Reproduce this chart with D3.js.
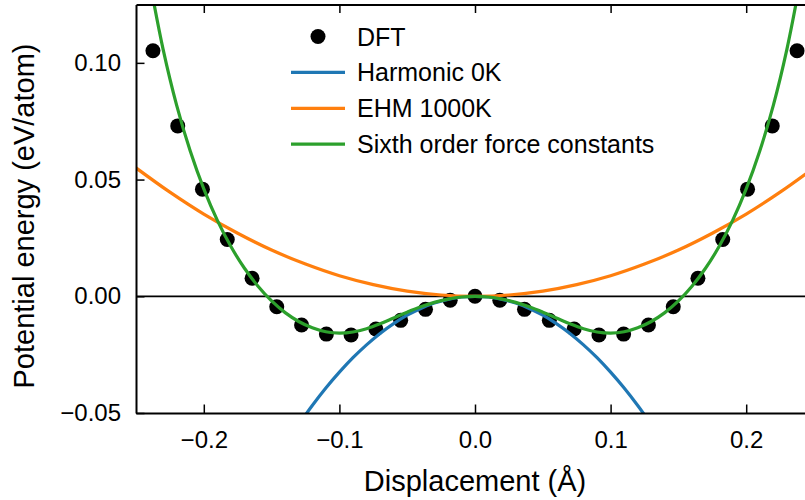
<!DOCTYPE html>
<html>
<head>
<meta charset="utf-8">
<script src="https://cdn.jsdelivr.net/npm/d3@7"></script>
<style>
  body { margin: 0; background: #fff; }
  svg { display: block; font-family: "Liberation Sans", Arial, sans-serif; }
</style>
</head>
<body>
<svg id="chart"></svg>
<script>
// DFT points
const dftX = [-0.2375, -0.2192, -0.2010, -0.1827, -0.1644, -0.1462, -0.1279, -0.1096, -0.0914, -0.0731, -0.0548, -0.0365, -0.0183, 0,
  0.0183, 0.0365, 0.0548, 0.0731, 0.0914, 0.1096, 0.1279, 0.1462, 0.1644, 0.1827, 0.2010, 0.2192, 0.2375];
const dftE = [0.1052, 0.0730, 0.0459, 0.0243, 0.0077, -0.0045, -0.0123, -0.0162, -0.0166, -0.0140, -0.0103, -0.0056, -0.0017, 0,
  -0.0017, -0.0056, -0.0103, -0.0140, -0.0166, -0.0162, -0.0123, -0.0045, 0.0077, 0.0243, 0.0459, 0.0730, 0.1052];

// Harmonic 0K
const harmX = [-0.13, -0.12, -0.11, -0.10, -0.09, -0.08, -0.07, -0.06, -0.05, -0.04, -0.03, -0.02, -0.01, 0,
  0.01, 0.02, 0.03, 0.04, 0.05, 0.06, 0.07, 0.08, 0.09, 0.10, 0.11, 0.12, 0.13];
const harmE = [-0.0549, -0.0468, -0.0393, -0.0325, -0.0263, -0.0208, -0.0159, -0.0117, -0.0081, -0.0052, -0.0029, -0.0013, -0.0003, 0,
  -0.0003, -0.0013, -0.0029, -0.0052, -0.0081, -0.0117, -0.0159, -0.0208, -0.0263, -0.0325, -0.0393, -0.0468, -0.0549];

// EHM 1000K
const ehmX = [-0.25, -0.225, -0.2, -0.175, -0.15, -0.125, -0.1, -0.075, -0.05, -0.025, 0,
  0.025, 0.05, 0.075, 0.1, 0.125, 0.15, 0.175, 0.2, 0.225, 0.25];
const ehmE = [0.0550, 0.0446, 0.0352, 0.0270, 0.0198, 0.0138, 0.0088, 0.0050, 0.0022, 0.00055, 0,
  0.00055, 0.0022, 0.0050, 0.0088, 0.0138, 0.0198, 0.0270, 0.0352, 0.0446, 0.0550];

// Sixth order force constants
const sixX = [-0.24, -0.23, -0.22, -0.21, -0.20, -0.19, -0.18, -0.17, -0.16, -0.15, -0.14, -0.13, -0.12, -0.11, -0.10,
  -0.09, -0.08, -0.07, -0.06, -0.05, -0.04, -0.03, -0.02, -0.01, 0,
  0.01, 0.02, 0.03, 0.04, 0.05, 0.06, 0.07, 0.08, 0.09, 0.10,
  0.11, 0.12, 0.13, 0.14, 0.15, 0.16, 0.17, 0.18, 0.19, 0.20, 0.21, 0.22, 0.23, 0.24];
const sixE = [0.1355, 0.1058, 0.0818, 0.0622, 0.0460, 0.0325, 0.0213, 0.0120, 0.0043, -0.0020, -0.0070, -0.0108, -0.0135, -0.0152, -0.0158,
  -0.0153, -0.0139, -0.0118, -0.0093, -0.0068, -0.0045, -0.0026, -0.0012, -0.0003, 0,
  -0.0003, -0.0012, -0.0026, -0.0045, -0.0068, -0.0093, -0.0118, -0.0139, -0.0153, -0.0158,
  -0.0152, -0.0135, -0.0108, -0.0070, -0.0020, 0.0043, 0.0120, 0.0213, 0.0325, 0.0460, 0.0622, 0.0818, 0.1058, 0.1355];

const xTicks = [-0.2, -0.1, 0.0, 0.1, 0.2];
const yTicks = [-0.05, 0.00, 0.05, 0.10];
const legendLabels = ["DFT", "Harmonic 0K", "EHM 1000K", "Sixth order force constants"];
const lineColors = ["#1f77b4", "#ff7f0e", "#2ca02c"];

const width = 805, height = 500;
const m = { left: 136, right: 814, top: 4.5, bottom: 413 };

const svg = d3.select("#chart").attr("width", width).attr("height", height);

const x = d3.scaleLinear().domain([-0.25, 0.25]).range([m.left, m.right]);
const y = d3.scaleLinear().domain([-0.05, 0.125]).range([m.bottom, m.top]);

svg.append("clipPath").attr("id", "clip")
  .append("rect")
  .attr("x", m.left).attr("y", m.top)
  .attr("width", m.right - m.left).attr("height", m.bottom - m.top);

const plot = svg.append("g").attr("clip-path", "url(#clip)");

// zero line
plot.append("line")
  .attr("x1", m.left).attr("x2", m.right)
  .attr("y1", y(0)).attr("y2", y(0))
  .attr("stroke", "#000").attr("stroke-width", 1.8);

// DFT dots
plot.selectAll(".dft")
  .data(dftX.map((d, i) => [d, dftE[i]]))
  .enter()
  .append("circle")
  .attr("class", "dft")
  .attr("cx", (d) => x(d[0]))
  .attr("cy", (d) => y(d[1]))
  .attr("r", 7.5)
  .attr("fill", "#000");

const line = d3.line()
  .x((d) => x(d[0]))
  .y((d) => y(d[1]))
  .curve(d3.curveCatmullRom);

const series = [
  harmX.map((d, i) => [d, harmE[i]]),
  ehmX.map((d, i) => [d, ehmE[i]]),
  sixX.map((d, i) => [d, sixE[i]])
];

plot.selectAll(".curve")
  .data(series)
  .enter()
  .append("path")
  .attr("class", "curve")
  .attr("d", line)
  .attr("fill", "none")
  .attr("stroke", (_, i) => lineColors[i])
  .attr("stroke-width", 3.2)
  .attr("stroke-linejoin", "round");

// axes, ticks pointing inward on all four sides
const fmtX = d3.format(".1f"), fmtY = d3.format(".2f");

svg.append("g")
  .attr("transform", `translate(0,${m.bottom})`)
  .call(d3.axisBottom(x).tickValues(xTicks).tickSizeInner(-8.5).tickSizeOuter(0).tickPadding(18).tickFormat(fmtX));
svg.append("g")
  .attr("transform", `translate(0,${m.top})`)
  .call(d3.axisTop(x).tickValues(xTicks).tickSizeInner(-8.5).tickSizeOuter(0).tickFormat(""));
svg.append("g")
  .attr("transform", `translate(${m.left},0)`)
  .call(d3.axisLeft(y).tickValues(yTicks).tickSizeInner(-8.5).tickSizeOuter(0).tickPadding(15).tickFormat(fmtY));
svg.append("g")
  .attr("transform", `translate(${m.right},0)`)
  .call(d3.axisRight(y).tickValues(yTicks).tickSizeInner(-8.5).tickSizeOuter(0).tickFormat(""));

svg.selectAll(".domain").attr("stroke", "#000").attr("stroke-width", 2);
svg.selectAll(".tick line").attr("stroke", "#000").attr("stroke-width", 1.5);
svg.selectAll(".tick text")
  .attr("fill", "#000")
  .style("font-size", "24px")
  .style("font-family", "'Liberation Sans', Arial, sans-serif");

// axis labels
svg.append("text")
  .attr("x", (m.left + m.right) / 2)
  .attr("y", 491)
  .attr("text-anchor", "middle")
  .style("font-size", "29px")
  .text("Displacement (Å)");

svg.append("text")
  .attr("transform", "translate(34,216) rotate(-90)")
  .attr("text-anchor", "middle")
  .style("font-size", "29px")
  .text("Potential energy (eV/atom)");

// legend
const legend = svg.append("g").attr("transform", "translate(291,36.5)");
const rowH = 35.9;

legend.append("circle")
  .attr("cx", 27).attr("cy", 0).attr("r", 7.5).attr("fill", "#000");

legend.selectAll(".lg-line")
  .data(lineColors)
  .enter()
  .append("line")
  .attr("class", "lg-line")
  .attr("x1", 0).attr("x2", 54)
  .attr("y1", (_, i) => (i + 1) * rowH)
  .attr("y2", (_, i) => (i + 1) * rowH)
  .attr("stroke", (d) => d)
  .attr("stroke-width", 3.2);

legend.selectAll(".lg-text")
  .data(legendLabels)
  .enter()
  .append("text")
  .attr("class", "lg-text")
  .attr("x", 66)
  .attr("y", (_, i) => i * rowH + 9)
  .style("font-size", "25px")
  .text((d) => d);
</script>
</body>
</html>
